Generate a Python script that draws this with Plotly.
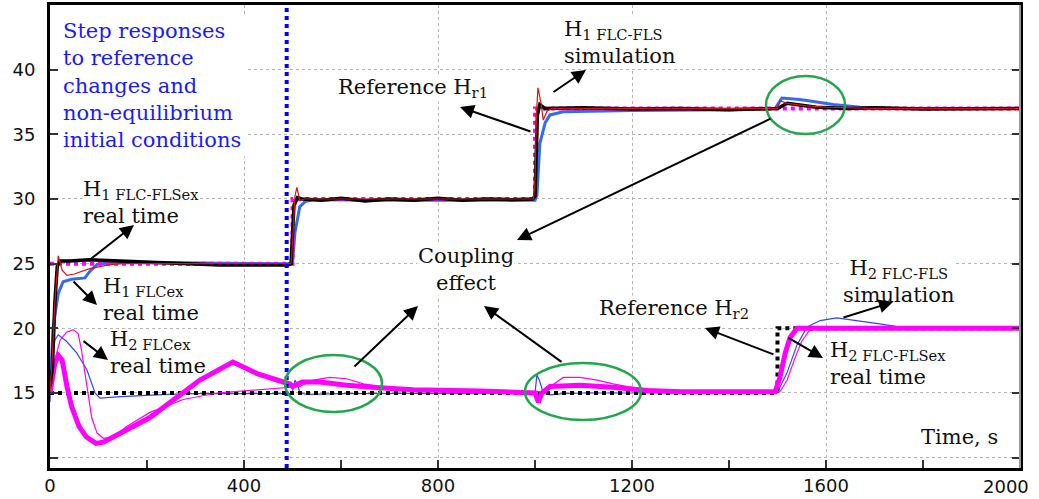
import plotly.graph_objects as go

# ---------------- data ----------------
t_ref1 = [0, 500, 500, 1000, 1000, 2000]
h_ref1 = [25, 25, 30, 30, 37, 37]

t_ref2 = [0, 1500, 1500, 2000]
h_ref2 = [15, 15, 20, 20]

t_marker = [488, 488]
h_marker = [9.2, 45]

# H1 FLC-FLSex real time (black)
t_h1_flsex = [0, 5, 10, 15, 20, 40, 80, 150, 250, 350, 490, 497, 503, 510, 520, 560, 600, 650,
              700, 750, 800, 850, 900, 950, 995, 1000, 1005, 1010, 1020, 1100, 1200, 1300,
              1400, 1500, 1520, 1540, 1580, 1650, 1700, 1800, 1900, 2000]
h_h1_flsex = [15.5, 17, 22, 24.8, 25.2, 25.2, 25.3, 25.2, 25.0, 24.9, 24.9, 25.0, 29.5, 30.1,
              30.0, 29.9, 30.05, 29.85, 30.0, 29.9, 30.05, 29.9, 30.0, 29.95, 30.0, 30.2, 36.5,
              37.3, 37.0, 37.05, 36.95, 37.0, 36.9, 37.0, 37.4, 37.3, 37.1, 37.0, 37.05, 36.95,
              37.0, 37.0]

# H1 FLC-FLS simulation (red)
t_h1_fls = [0, 5, 10, 17, 25, 35, 50, 80, 120, 150, 497, 500, 505, 509, 515, 525, 540, 997,
            1000, 1003, 1006, 1012, 1017, 1025, 1035, 1500, 1505, 1520, 1560, 1600, 1700, 2000]
h_h1_fls = [15, 18, 22, 25.6, 24.5, 24.1, 24.2, 24.6, 24.9, 25.0, 25.0, 26.5, 30.2, 30.9, 29.9,
            30.0, 30.0, 30.0, 31.5, 36.5, 38.6, 37.5, 36.1, 36.8, 37.0, 37.0, 37.6, 37.4, 37.2,
            37.1, 37.0, 37.0]

# H1 FLCex real time (blue, thick)
t_h1_flcex = [0, 6, 10, 17, 27, 45, 72, 82, 97, 130, 300, 490, 500, 505, 515, 526, 545, 700,
              1000, 1004, 1010, 1021, 1031, 1058, 1200, 1400, 1480, 1495, 1509, 1546, 1581,
              1615, 1670, 1750, 2000]
h_h1_flcex = [15, 19.9, 21, 22.7, 23.6, 23.8, 23.9, 24.4, 24.95, 25.1, 25.05, 25.0, 25.0, 27.4,
              29.4, 29.8, 29.95, 29.9, 29.9, 30.3, 34.3, 35.9, 36.5, 36.75, 36.85, 36.9, 37.0,
              37.0, 37.8, 37.7, 37.5, 37.3, 37.1, 37.0, 37.0]

# H2 FLC-FLSex real time (magenta, thick)
t_h2_flsex = [0, 10, 17, 25, 35, 45, 60, 75, 95, 110, 206, 309, 377, 427, 481, 495, 500, 520,
              557, 612, 680, 749, 887, 983, 1000, 1007, 1014, 1031, 1093, 1161, 1231, 1300,
              1495, 1505, 1516, 1526, 1540, 1600, 2000]
h_h2_flsex = [15, 17.3, 17.9, 17.55, 15.5, 13.9, 12.4, 11.6, 11.1, 11.2, 13.1, 16.0, 17.4, 16.5,
              15.85, 15.7, 15.5, 15.85, 15.85, 15.6, 15.4, 15.25, 15.15, 15.1, 15.0, 14.3, 15.0,
              15.5, 15.6, 15.45, 15.2, 15.1, 15.1, 16.2, 18.1, 19.3, 20.0, 20.0, 20.0]

# H2 thin magenta
t_h2_fls = [0, 10, 21, 34, 48, 58, 65, 72, 79, 86, 97, 110, 131, 158, 206, 275, 344, 412, 481,
            515, 543, 577, 612, 646, 680, 715, 784, 1000, 1017, 1058, 1093, 1128, 1161, 1196,
            1231, 1300, 1505, 1520, 1535, 1550, 1565, 1580, 2000]
h_h2_fls = [15, 17.55, 19.1, 19.7, 19.9, 19.6, 18.3, 16.5, 14.7, 13.1, 11.9, 11.5, 11.6, 12.4,
            13.5, 14.5, 15.0, 15.2, 15.4, 15.5, 16.0, 16.2, 16.1, 15.7, 15.5, 15.3, 15.2, 15.1,
            15.1, 16.2, 16.2, 16.0, 15.7, 15.45, 15.3, 15.1, 15.1, 16.0, 17.6, 19.0, 19.8, 20.0,
            20.0]

# H2 thin blue
t_h2_flcex = [0, 3, 10, 17, 34, 55, 76, 93, 103, 138, 241, 300, 499, 505, 511, 515, 530, 600,
              1000, 1004, 1009, 1017, 1031, 1058, 1100, 1499, 1519, 1540, 1561, 1588, 1622,
              1664, 1711, 1753, 1800, 2000]
h_h2_flcex = [14.3, 17.3, 19.1, 19.5, 19.0, 18.1, 16.8, 15.0, 14.6, 14.7, 14.9, 14.95, 14.95,
              16.0, 15.6, 15.0, 14.9, 14.95, 15.0, 16.4, 16.0, 15.0, 14.85, 14.95, 15.0, 15.0,
              16.5, 18.7, 20.1, 20.6, 20.8, 20.6, 20.35, 20.1, 20.0, 20.0]

x_ticks = [0, 400, 800, 1200, 1600, 2000]
x_ticktext = ["0", "400", "800", "1200", "1600", "2000"]
y_ticks = [10, 15, 20, 25, 30, 35, 40]
y_ticktext = ["", "15", "20", "25", "30", "35", "40"]

# ---------------- layout geometry ----------------
W, H = 1039, 499
X0, X1, Y0, Y1 = 50, 1020, 468, 5
XMIN, XMAX, YMIN, YMAX = 0, 2000, 9.2, 45


def dx(px):
    return XMIN + (px - X0) * (XMAX - XMIN) / (X1 - X0)


def dy(py):
    return YMIN + (Y0 - py) * (YMAX - YMIN) / (Y0 - Y1)


def paper_x(px):
    return (px - X0) / (X1 - X0)


def paper_y(py):
    return (Y0 - py) / (Y0 - Y1)


MAG = "#ff00ff"
BLUE = "#2f6cf0"
fig = go.Figure()


def line(t, h, color, width, dash="solid"):
    fig.add_trace(go.Scatter(x=t, y=h, mode="lines", line=dict(color=color, width=width, dash=dash),
                             hoverinfo="skip", showlegend=False))


line(t_h2_flcex, h_h2_flcex, "#3344ff", 1.2)
line(t_ref2, h_ref2, "black", 4, "dot")
line(t_h2_flsex, h_h2_flsex, MAG, 5)
line(t_h2_fls, h_h2_fls, MAG, 1.2)
line(t_h1_flcex, h_h1_flcex, BLUE, 3)
line(t_ref1, h_ref1, MAG, 4, "dot")
line(t_h1_flsex, h_h1_flsex, "black", 3.5)
line(t_h1_fls, h_h1_fls, "#e01010", 1.2)
line(t_marker, h_marker, "#0000ff", 4, "dot")

SERIF = "DejaVu Serif"
annotations = []

# blue text block
annotations.append(dict(
    x=dx(58), y=dy(85), xref="x", yref="y", xanchor="left", yanchor="middle",
    text="Step responses<br>to reference<br>changes and<br>non-equilibrium<br>initial conditions",
    align="left", showarrow=False, bgcolor="white", borderpad=4,
    font=dict(family=SERIF, size=21, color="#1a1aff")))

# (text, x px, center y px, anchor, white background)
labels = [
    ("H<sub>1 FLC-FLSex</sub><br>real time", 82, 202, "left", True),
    ("H<sub>1 FLCex</sub><br>real time", 102, 299, "left", False),
    ("H<sub>2 FLCex</sub><br>real time", 109, 352, "left", False),
    ("Reference H<sub>r1</sub>", 337, 88, "left", True),
    ("H<sub>1 FLC-FLS</sub><br>simulation", 563, 42, "left", True),
    ("Coupling<br>effect", 466, 269, "center", True),
    ("Reference H<sub>r2</sub>", 598, 309, "left", True),
    ("H<sub>2 FLC-FLS</sub><br>simulation", 899, 281, "center", True),
    ("H<sub>2 FLC-FLSex</sub><br>real time", 829, 363, "left", True),
    ("Time, s", 920, 437, "left", True),
]
for txt, px, py, anc, bg in labels:
    annotations.append(dict(
        x=dx(px), y=dy(py), xref="x", yref="y", xanchor=anc, yanchor="middle",
        text=txt, align=anc, showarrow=False, borderpad=0,
        bgcolor="white" if bg else "rgba(0,0,0,0)",
        font=dict(family=SERIF, size=21, color="#111")))

# last x tick label sits left of its tick (as in the reference, where it is pushed in from the edge)
annotations.append(dict(
    x=paper_x(1031), y=paper_y(486), xref="paper", yref="paper", xanchor="right",
    yanchor="middle", text=x_ticktext[-1], showarrow=False,
    font=dict(family="DejaVu Sans", size=18, color="#111")))

arrows = [
    ((87, 262), (134, 225)),
    ((72, 280), (97, 305)),
    ((82, 340), (108, 360)),
    ((532, 132), (460, 107)),
    ((552, 93), (586, 70)),
    ((772, 118), (517, 240)),
    ((353, 368), (418, 306)),
    ((563, 363), (484, 306)),
    ((775, 355), (705, 328)),
    ((842, 318), (893, 302)),
    ((787, 337), (823, 358)),
]
for (tx, ty), (hx, hy) in arrows:
    annotations.append(dict(
        x=dx(hx), y=dy(hy), ax=dx(tx), ay=dy(ty), xref="x", yref="y", axref="x", ayref="y",
        text="", showarrow=True, arrowhead=2, arrowsize=1.4, arrowwidth=2, arrowcolor="black",
        standoff=0, startstandoff=0))

shapes = []
for (ex0, ex1, ey0, ey1) in [(766, 845, 76, 134), (285, 382, 355, 412), (525, 641, 363, 420)]:
    shapes.append(dict(type="circle", xref="x", yref="y", x0=dx(ex0), x1=dx(ex1),
                       y0=dy(ey1), y1=dy(ey0), line=dict(color="#22a84c", width=2.5)))
# light right border
shapes.append(dict(type="line", xref="paper", yref="paper", x0=1, x1=1, y0=0, y1=1,
                   line=dict(color="#9a9a9a", width=2)))

fig.update_layout(
    width=W, height=H,
    margin=dict(l=X0, r=W - X1, t=Y1, b=H - Y0, autoexpand=False),
    paper_bgcolor="white", plot_bgcolor="white",
    annotations=annotations, shapes=shapes,
    xaxis=dict(range=[XMIN, XMAX], tickvals=x_ticks, ticktext=x_ticktext[:-1] + [""],
               ticks="inside", ticklen=8, tickwidth=1.5, automargin=False,
               tickcolor="#333", showline=True, linecolor="black", linewidth=2.5, mirror=True,
               showgrid=True, gridcolor="#b5b5b5", griddash="dot", gridwidth=1,
               minor=dict(dtick=200, ticks="inside", ticklen=8, tickwidth=1.5, tickcolor="#333",
                          showgrid=False),
               tickfont=dict(family="DejaVu Sans", size=18, color="#111"), zeroline=False),
    yaxis=dict(range=[YMIN, YMAX], tickvals=y_ticks, ticktext=y_ticktext, ticks="inside",
               ticklen=8, tickwidth=1.5, tickcolor="#333", showline=True, linecolor="black",
               linewidth=3, mirror="ticks", showgrid=True, gridcolor="#b5b5b5", griddash="dot",
               gridwidth=1, ticklabelstandoff=8, automargin=False,
               tickfont=dict(family="DejaVu Sans", size=18, color="#111"), zeroline=False),
)

fig.write_html("out.html")
